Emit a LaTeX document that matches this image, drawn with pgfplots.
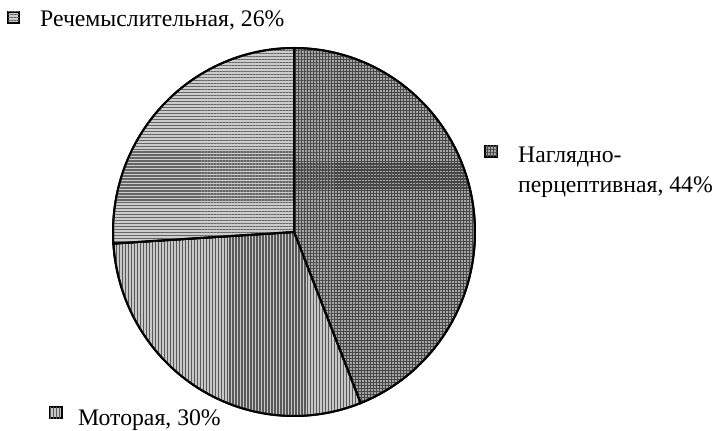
\documentclass[border=0pt]{standalone}
\usepackage{fontspec}
\setmainfont{Liberation Serif}
\usepackage{pgfplots}
\pgfplotsset{compat=1.18}
\usetikzlibrary{patterns.meta}
% shares, percent
\def\vA{44} % Наглядно-перцептивная
\def\vB{30} % Моторая
\def\vC{26} % Речемыслительная
\pgfmathsetmacro\aZero{90}
\pgfmathsetmacro\aA{90-3.6*\vA}
\pgfmathsetmacro\aB{\aA-3.6*\vB}
\pgfmathsetmacro\aC{\aB-3.6*\vC}
\def\cx{294}\def\cy{196}\def\rx{181}\def\ry{184}
\tikzset{
 pgrid/.style={fill=black!35, postaction={pattern={Hatch[angle=0,distance=3pt,line width=1.1pt]},pattern color=black!72}},
 pvert/.style={fill=black!22, postaction={pattern={Lines[angle=90,distance=3pt,line width=1.3pt]},pattern color=black!65}},
 phor/.style={fill=black!20, postaction={pattern={Lines[angle=0,distance=3pt,line width=1.2pt]},pattern color=black!60}},
}
\begin{document}
\begin{tikzpicture}
\begin{axis}[scale only axis, width=715bp, height=428bp,
  xmin=0, xmax=715, ymin=0, ymax=428, hide axis, clip=false]
\path (axis cs:0,0) rectangle (axis cs:715,428);
\addplot[pgrid, draw=black, line width=2pt, domain=\aA:\aZero, samples=120, variable=\t]
  ({\cx+\rx*cos(\t)},{\cy+\ry*sin(\t)}) -- (axis cs:\cx,\cy) -- cycle;
\addplot[pvert, draw=black, line width=2pt, domain=\aB:\aA, samples=100, variable=\t]
  ({\cx+\rx*cos(\t)},{\cy+\ry*sin(\t)}) -- (axis cs:\cx,\cy) -- cycle;
\addplot[phor, draw=black, line width=2pt, domain=\aC:\aB, samples=100, variable=\t]
  ({\cx+\rx*cos(\t)},{\cy+\ry*sin(\t)}) -- (axis cs:\cx,\cy) -- cycle;
% labels
\path[phor, draw=black, line width=1.2pt] (axis cs:8,405) rectangle (axis cs:19,416);
\node[anchor=base west, inner sep=0pt, font=\fontsize{23.8}{30}\selectfont] at (axis cs:40,401) {Речемыслительная, 26\%};
\path[pgrid, draw=black, line width=1.2pt] (axis cs:485,271) rectangle (axis cs:497,282);
\node[anchor=base west, inner sep=0pt, font=\fontsize{23.8}{30}\selectfont] at (axis cs:518,265) {Наглядно-};
\node[anchor=base west, inner sep=0pt, font=\fontsize{23.8}{30}\selectfont] at (axis cs:518,235) {перцептивная, 44\%};
\path[pvert, draw=black, line width=1.2pt] (axis cs:50,10) rectangle (axis cs:62,21);
\node[anchor=base west, inner sep=0pt, font=\fontsize{23.8}{30}\selectfont] at (axis cs:78,3) {Моторая, 30\%};
\end{axis}
\end{tikzpicture}
\end{document}
